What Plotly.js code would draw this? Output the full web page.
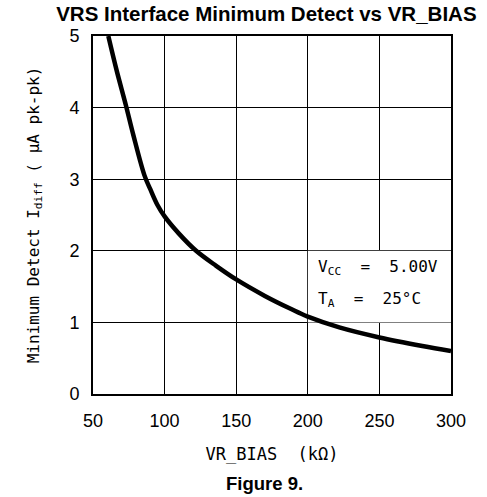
<!DOCTYPE html>
<html>
<head>
<meta charset="utf-8">
<script src="https://cdn.plot.ly/plotly-3.0.1.min.js"></script>
<style>html,body{margin:0;padding:0;background:#fff;}#chart{width:487px;height:497px;}</style>
</head>
<body>
<div id="chart"></div>
<script>
const vrBias = [60.7, 66.5, 73, 78, 86, 90, 95, 100, 110, 122, 136, 150, 170, 188, 200, 222, 250, 280, 300];
const minDetect = [5.0, 4.52, 4.03, 3.63, 3.05, 2.86, 2.64, 2.48, 2.24, 2.0, 1.79, 1.6, 1.37, 1.19, 1.08, 0.93, 0.79, 0.67, 0.6];
const xTicks = [50, 100, 150, 200, 250, 300];
const yTicks = [0, 1, 2, 3, 4, 5];

const tickFont = {family: 'Liberation Sans, Arial, sans-serif', size: 18, color: '#000'};
const monoFont = 'DejaVu Sans Mono, Liberation Mono, monospace';

const trace = {
  x: vrBias, y: minDetect, type: 'scatter', mode: 'lines',
  line: {color: '#000', width: 4.5, shape: 'spline', smoothing: 1.0},
  hoverinfo: 'skip', showlegend: false
};

const layout = {
  width: 487, height: 497,
  margin: {l: 93, r: 36, t: 36, b: 103},
  paper_bgcolor: '#fff', plot_bgcolor: '#fff',
  title: {text: '<b>VRS Interface Minimum Detect vs VR_BIAS</b>', font: {family: 'Liberation Sans, Arial, sans-serif', size: 20.5, color: '#000'}, x: 0.547, xanchor: 'center', y: 0.973, yanchor: 'middle'},
  xaxis: {
    range: [50, 300], tickvals: xTicks, ticktext: xTicks.map(String),
    showgrid: true, gridcolor: '#000', gridwidth: 1.3,
    showline: true, linecolor: '#000', linewidth: 1.8, mirror: true,
    ticks: '', ticklabelstandoff: 10, tickfont: tickFont, zeroline: false,
    title: {text: 'VR_BIAS  (kΩ)', font: {family: monoFont, size: 17, color: '#000'}, standoff: 18}
  },
  yaxis: {
    range: [0, 5], tickvals: yTicks, ticktext: yTicks.map(String),
    showgrid: true, gridcolor: '#000', gridwidth: 1.3,
    showline: true, linecolor: '#000', linewidth: 1.8, mirror: true,
    ticks: '', ticklabelstandoff: 8, tickfont: tickFont, zeroline: false,
    title: {text: 'Minimum Detect I<sub>diff</sub> ( μA pk-pk)', font: {family: monoFont, size: 16, color: '#000'}, standoff: 26}
  },
  shapes: [
    {type: 'rect', xref: 'x', yref: 'y', x0: 200, x1: 300, y0: 1, y1: 2, fillcolor: '#fff', line: {width: 0}, layer: 'between'}
  ],
  annotations: [
    {xref: 'x', yref: 'y', x: 206, y: 1.76, xanchor: 'left', yanchor: 'middle', showarrow: false, text: 'V<sub>CC</sub>  =  5.00V', font: {family: monoFont, size: 16, color: '#000'}},
    {xref: 'x', yref: 'y', x: 206, y: 1.32, xanchor: 'left', yanchor: 'middle', showarrow: false, text: 'T<sub>A</sub>  =  25°C', font: {family: monoFont, size: 16, color: '#000'}},
    {xref: 'paper', yref: 'paper', x: 0.478, y: -0.25, xanchor: 'center', yanchor: 'middle', showarrow: false, text: '<b>Figure 9.</b>', font: {family: 'Liberation Sans, Arial, sans-serif', size: 18.5, color: '#000'}}
  ]
};

Plotly.newPlot('chart', [trace], layout, {staticPlot: true, displayModeBar: false});
</script>
</body>
</html>
